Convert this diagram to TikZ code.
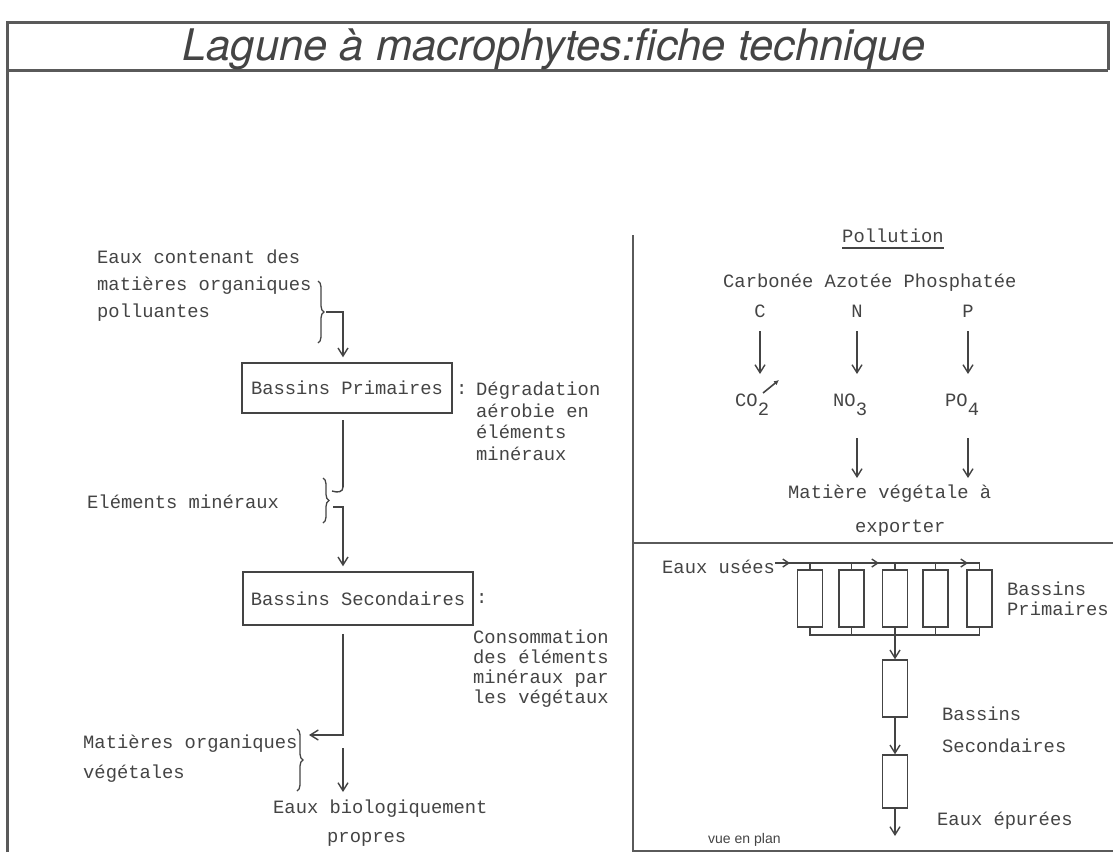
\documentclass[tikz,border=0pt]{standalone}
\usepackage{fontspec}
\newfontfamily\tmono{Liberation Mono}
\newfontfamily\ttitle{TeX Gyre Heros}
\newfontfamily\tsans{Liberation Sans}
\usetikzlibrary{arrows.meta,decorations.pathreplacing,decorations.markings,calc}
\definecolor{ink}{HTML}{444444}
\definecolor{framec}{HTML}{5A5A5A}
\begin{document}
\begin{tikzpicture}[x=1pt,y=-1pt,
 txt/.style={font=\tmono\fontsize{18.8}{22}\selectfont, text=ink, inner sep=0pt, anchor=base west},
 ctxt/.style={txt, anchor=base},
 conn/.style={draw=ink, line width=1.4pt},
 arr/.style={conn, -{Straight Barb[length=8pt,width=10pt]}},
 boxl/.style={draw=ink, line width=1.5pt, inner sep=0pt, font=\tmono\fontsize{18.8}{22}\selectfont, text=ink},
 basin/.style={draw=ink, line width=1.4pt, minimum width=25pt, inner sep=0pt},
 brc/.style={draw=ink, line width=1.3pt, decorate, decoration={brace, amplitude=6pt}},
 frm/.style={draw=framec, line width=3pt}]
\useasboundingbox[fill=white] (0,0) rectangle (1113,852);

% frame
\draw[frm] (7,852) -- (7,22) -- (1108,22) -- (1108,70);
\draw[frm] (7,70) -- (1108,70);
\draw[frm, line width=2.5pt] (633,235) -- (633,852);
\draw[frm, line width=2pt] (633,543) -- (1113,543);
\draw[frm, line width=2pt] (633,851) -- (1113,851);

\node[font=\ttitle\itshape\fontsize{43.5}{46}\selectfont, text=ink, inner sep=0pt, anchor=base] (title) at (554,60) {Lagune à macrophytes:fiche technique};

% ---------- left panel ----------
\node[txt] (e1) at (97,263) {Eaux contenant des};
\node[txt] (e2) at (97,290) {matières organiques};
\node[txt] (e3) at (97,317) {polluantes};
\draw[brc] (318,281) -- (318,343);
\coordinate (br1) at (326,312);
\coordinate (c1) at (343,312);

\node[boxl, minimum width=210pt, minimum height=50pt] (bp) at (347,388) {Bassins Primaires};
\node[txt] (col1) at (456,394) {:};
\node[txt] (d1) at (476,395) {Dégradation};
\node[txt] (d2) at (476,417) {aérobie en};
\node[txt] (d3) at (476,438) {éléments};
\node[txt] (d4) at (476,460) {minéraux};

\draw[arr, shorten >=5pt] (br1) -- (c1) -- (c1 |- bp.north);

\node[txt] (em) at (87,508) {Eléments minéraux};
\draw[brc] (323,478) -- (323,523);
\coordinate (c1a) at (343,420);
\coordinate (c1b) at (343,487);
\coordinate (br2) at (332,491);
\draw[conn] (c1a) -- (c1b);
\draw[conn] (c1b) .. controls (343,492) and (338,493) .. (br2);

\node[boxl, minimum width=230pt, minimum height=53pt] (bs) at (358,598.5) {Bassins Secondaires};
\node[txt] (col2) at (476,603) {:};
\node[txt] (k1) at (473,643) {Consommation};
\node[txt] (k2) at (473,663) {des éléments};
\node[txt] (k3) at (473,683) {minéraux par};
\node[txt] (k4) at (473,703) {les végétaux};

\coordinate (br2b) at (333,507);
\coordinate (c2) at (343,507);
\draw[arr, shorten >=5pt] (br2b) -- (c2) -- (c2 |- bs.north);

\node[txt] (mo1) at (83,748) {Matières organiques};
\node[txt] (mo2) at (83,778) {végétales};
\draw[brc] (297,729) -- (297,791);
\coordinate (c3) at (343,735);
\coordinate (br3) at (309,735);
\draw[arr, shorten <=8pt] (c3 |- bs.south) -- (c3) -- (br3);

\coordinate (c4) at (343,748);
\coordinate (c5) at (343,792);
\draw[arr] (c4) -- (c5);
\node[txt] (eb1) at (273,813) {Eaux biologiquement};
\node[txt] (eb2) at (327,842) {propres};

% ---------- right upper panel ----------
\node[ctxt] (pol) at (893,242) {Pollution};
\draw[conn, line width=1.8pt] ([yshift=-6pt]pol.base west) -- ([yshift=-6pt]pol.base east);
\node[txt] (cat) at (723,287) {Carbonée Azotée Phosphatée};
\node[ctxt] (C) at (760,317) {C};
\node[ctxt] (N) at (857,317) {N};
\node[ctxt] (P) at (968,317) {P};
\node[txt] (co2) at (735,406) {CO\raisebox{-9pt}{2}};
\node[txt] (no3) at (833,406) {NO\raisebox{-9pt}{3}};
\node[txt] (po4) at (945,406) {PO\raisebox{-9pt}{4}};
\coordinate (cA) at (760,393);
\coordinate (nA) at (857,393);
\coordinate (pA) at (968,393);
\draw[arr, shorten <=14pt, shorten >=19pt] (C.south) -- (cA);
\draw[arr, shorten <=14pt, shorten >=19pt] (N.south) -- (nA);
\draw[arr, shorten <=14pt, shorten >=19pt] (P.south) -- (pA);
\coordinate (g1) at (763,393);
\coordinate (g2) at (779,380);
\draw[conn, line width=1.6pt, -{Latex[length=5pt,width=5pt]}] (g1) -- (g2);

\node[txt] (mv1) at (788,498) {Matière végétale à};
\node[txt] (mv2) at (855,532) {exporter};
\coordinate (nB) at (857,438);
\coordinate (pB) at (968,438);
\draw[arr] (nB) -- (nB |- 0,478);
\draw[arr] (pB) -- (pB |- 0,478);

% ---------- right lower panel ----------
\node[txt] (eu) at (662,573) {Eaux usées};
\node[basin, minimum height=57pt] (b1) at (810,598.5) {};
\node[basin, minimum height=57pt] (b2) at (851.5,598.5) {};
\node[basin, minimum height=57pt] (b3) at (895,598.5) {};
\node[basin, minimum height=57pt] (b4) at (935.5,598.5) {};
\node[basin, minimum height=57pt] (b5) at (979.5,598.5) {};
\coordinate (m0) at (775,563);
\coordinate (m5) at (979.5,563);
\draw[conn, decoration={markings,
   mark=at position 15pt with {\arrow{Straight Barb[length=6pt,width=8pt]}},
   mark=at position 104pt with {\arrow{Straight Barb[length=6pt,width=8pt]}},
   mark=at position 193pt with {\arrow{Straight Barb[length=6pt,width=8pt]}}},
   postaction=decorate] (m0) -- (m5) -- (b5.north);
\foreach \b in {b1,b2,b3,b4} \draw[conn] (\b.north) -- (\b.north |- m0);
\coordinate (n0) at (810,635);
\draw[conn] (b1.south) -- (b1.south |- n0) -- (b5.south |- n0) -- (b5.south);
\foreach \b in {b2,b3,b4} \draw[conn] (\b.south) -- (\b.south |- n0);

\node[basin, minimum height=57pt] (b6) at (895,688.5) {};
\node[basin, minimum height=53pt] (b7) at (895,781.5) {};
\coordinate (out) at (895,836);
\draw[arr] (b3.south |- n0) -- (b6.north);
\draw[arr] (b6.south) -- (b7.north);
\draw[arr] (b7.south) -- (out);

\node[txt] (lp1) at (1007,595) {Bassins};
\node[txt] (lp2) at (1007,615) {Primaires};
\node[txt] (ls1) at (942,720) {Bassins};
\node[txt] (ls2) at (942,752) {Secondaires};
\node[txt] (le) at (937,825) {Eaux épurées};
\node[font=\tsans\fontsize{14}{16}\selectfont, text=ink, inner sep=0pt, anchor=base west] (vp) at (708,843) {vue en plan};
\end{tikzpicture}
\end{document}
